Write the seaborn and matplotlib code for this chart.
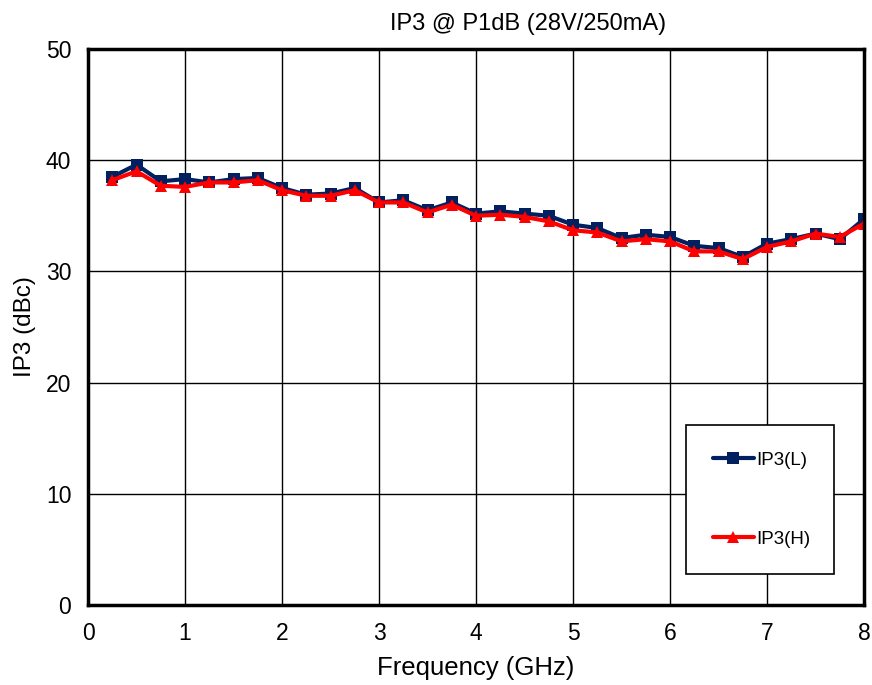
import numpy as np
import pandas as pd
import matplotlib
matplotlib.use("Agg")
import matplotlib.pyplot as plt
import seaborn as sns
from matplotlib.ticker import MultipleLocator

# data
freq = [0.25, 0.5, 0.75, 1.0, 1.25, 1.5, 1.75, 2.0, 2.25, 2.5, 2.75, 3.0,
        3.25, 3.5, 3.75, 4.0, 4.25, 4.5, 4.75, 5.0, 5.25, 5.5, 5.75, 6.0,
        6.25, 6.5, 6.75, 7.0, 7.25, 7.5, 7.75, 8.0]
ip3_l = [38.5, 39.6, 38.1, 38.3, 38.0, 38.3, 38.4, 37.5, 36.9, 37.0, 37.5, 36.2,
         36.4, 35.5, 36.2, 35.2, 35.4, 35.2, 35.0, 34.2, 33.9, 33.0, 33.3, 33.1,
         32.3, 32.1, 31.3, 32.5, 32.9, 33.4, 32.9, 34.7]
ip3_h = [38.2, 39.0, 37.7, 37.6, 38.0, 38.0, 38.2, 37.3, 36.8, 36.8, 37.3, 36.2,
         36.2, 35.3, 36.0, 35.0, 35.1, 34.9, 34.5, 33.7, 33.5, 32.7, 32.9, 32.7,
         31.8, 31.8, 31.1, 32.2, 32.7, 33.4, 33.1, 34.3]

df = pd.DataFrame({"Frequency": freq, "IP3(L)": ip3_l, "IP3(H)": ip3_h})
df = df.melt(id_vars="Frequency", var_name="series", value_name="IP3")

sns.set_style("white")
plt.rcParams["font.family"] = ["Liberation Sans", "DejaVu Sans"]
plt.rcParams["text.color"] = "black"
plt.rcParams["axes.labelcolor"] = "black"

fig = plt.figure(figsize=(8.72, 6.85), dpi=100)
ax = fig.add_axes([88 / 872, 80 / 685, 776 / 872, 556 / 685])

sns.lineplot(data=df, x="Frequency", y="IP3", hue="series", style="series",
             palette={"IP3(L)": "#002060", "IP3(H)": "#ff0000"},
             markers={"IP3(L)": "s", "IP3(H)": "^"}, dashes=False,
             markersize=8, linewidth=3, markeredgewidth=0, ax=ax)

ax.set_xlim(0, 8)
ax.set_ylim(0, 50)
ax.xaxis.set_major_locator(MultipleLocator(1))
ax.xaxis.set_minor_locator(MultipleLocator(0.2))
ax.yaxis.set_major_locator(MultipleLocator(10))
ax.yaxis.set_minor_locator(MultipleLocator(2))
ax.tick_params(which="both", direction="in", colors="black", labelsize=16.5)
ax.tick_params(which="major", length=6, width=1, pad=12)
ax.tick_params(which="minor", length=5, width=1)
ax.grid(True, which="major", color="black", linewidth=1)

for s in ax.spines.values():
    s.set_color("black")
    s.set_linewidth(2.5)

ax.set_xlabel("Frequency (GHz)", fontsize=18.5, labelpad=8, color="black")
ax.set_ylabel("IP3 (dBc)", fontsize=17.5, labelpad=7, color="black")
ax.set_title("IP3 @ P1dB (28V/250mA)", fontsize=17, pad=14, x=0.567, color="black")

leg = ax.legend(loc="lower left", bbox_to_anchor=(0.771, 0.056, 0.19, 0.268),
                mode="expand", fontsize=13.5, frameon=True, fancybox=False,
                edgecolor="black", labelspacing=3.3, handlelength=2.2,
                handletextpad=0.15, borderpad=1.4, borderaxespad=0)
leg.get_frame().set_linewidth(1.2)
leg.get_frame().set_alpha(1)
for t in leg.get_texts():
    t.set_color("black")

fig.savefig("out.png", dpi=100)
